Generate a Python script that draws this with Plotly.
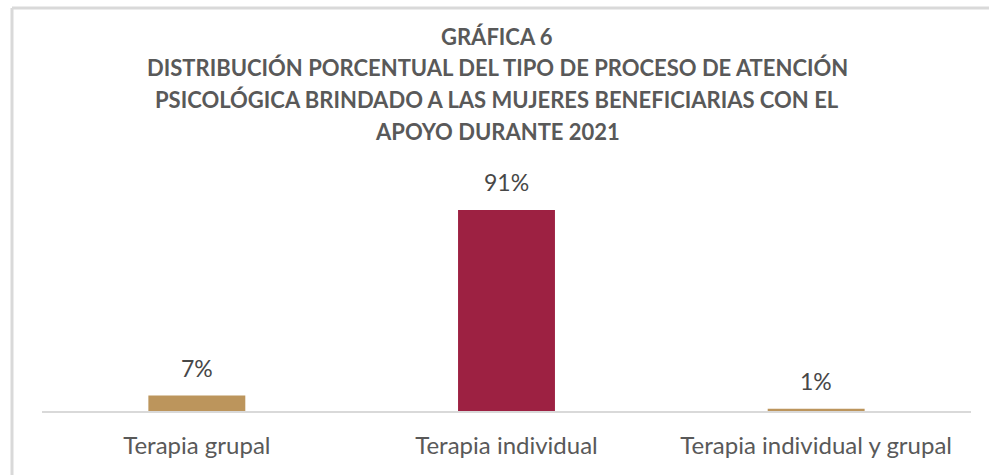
import plotly.graph_objects as go

categories = ["Terapia grupal", "Terapia individual", "Terapia individual y grupal"]
values = [7, 91, 1]
colors = ["#BC955C", "#9D2142", "#BC955C"]
title_lines = [
    "GRÁFICA 6",
    "DISTRIBUCIÓN PORCENTUAL DEL TIPO DE PROCESO DE ATENCIÓN",
    "PSICOLÓGICA BRINDADO A LAS MUJERES BENEFICIARIAS CON EL",
    "APOYO DURANTE 2021",
]

W, H = 989, 475
L, R, T, B = 42, 18, 190, 64
pw, ph = W - L - R, H - T - B

fig = go.Figure(go.Bar(
    x=categories, y=values, marker=dict(color=colors, line=dict(width=0)),
    width=0.313, hoverinfo="x+y",
))

def py(p):
    return (H - B - p) / ph

def px(p):
    return (p - L) / pw

anns = []
for c, v in zip(categories, values):
    anns.append(dict(text=f"{v}%", x=c, y=v, xref="x", yref="y",
                     xanchor="center", yanchor="bottom", yshift=12,
                     showarrow=False,
                     font=dict(family="Lato", size=23, color="#474747")))

title_y = [36, 68, 100, 131]
for line, yc in zip(title_lines, title_y):
    anns.append(dict(text=f"<b>{line}</b>", xref="paper", yref="paper",
                     x=px(497), y=py(yc), xanchor="center", yanchor="middle",
                     showarrow=False,
                     font=dict(family="Lato", size=22, color="#595959")))

shapes = [
    dict(type="line", xref="paper", yref="paper", x0=px(12), x1=px(W + 10),
         y0=py(8), y1=py(8), line=dict(color="#D9D9D9", width=3)),
    dict(type="line", xref="paper", yref="paper", x0=px(12), x1=px(12),
         y0=py(8), y1=py(H + 10), line=dict(color="#D9D9D9", width=3)),
]

fig.update_layout(
    width=W, height=H, margin=dict(l=L, r=R, t=T, b=B),
    paper_bgcolor="white", plot_bgcolor="white",
    showlegend=False, annotations=anns, shapes=shapes,
    xaxis=dict(showline=True, linecolor="#D9D9D9", linewidth=2, ticks="",
               showgrid=False, ticklabelstandoff=12,
               tickfont=dict(family="Lato", size=24, color="#595959"),
               fixedrange=True),
    yaxis=dict(range=[0, 100], visible=False, showgrid=False, fixedrange=True),
)

fig.write_html("out.html", config={"displayModeBar": False},
               post_script="document.body.style.margin='0';document.body.style.overflow='hidden';")
